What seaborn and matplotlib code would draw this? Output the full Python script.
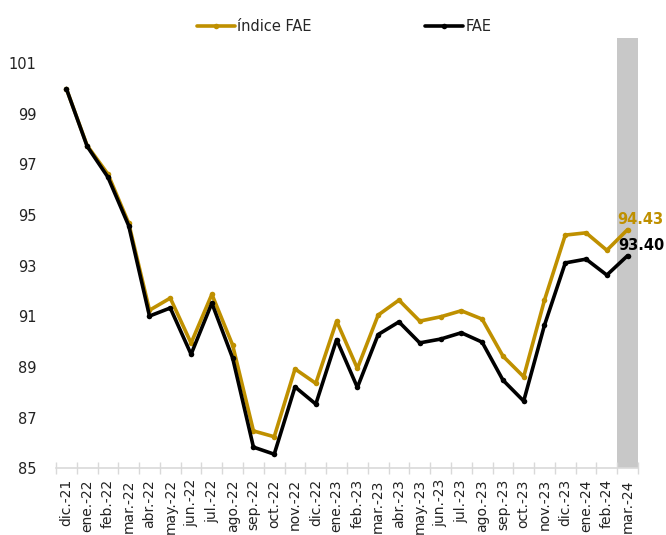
import matplotlib
matplotlib.use("Agg")
from matplotlib import pyplot as plt
from matplotlib.ticker import FixedLocator
import pandas as pd
import seaborn as sns

months = [
    "dic.-21", "ene.-22", "feb.-22", "mar.-22", "abr.-22", "may.-22", "jun.-22",
    "jul.-22", "ago.-22", "sep.-22", "oct.-22", "nov.-22", "dic.-22", "ene.-23",
    "feb.-23", "mar.-23", "abr.-23", "may.-23", "jun.-23", "jul.-23", "ago.-23",
    "sep.-23", "oct.-23", "nov.-23", "dic.-23", "ene.-24", "feb.-24", "mar.-24",
]
indice_fae = [
    100.0, 97.75, 96.62, 94.68, 91.24, 91.72, 89.94, 91.87, 89.86, 86.47,
    86.24, 88.92, 88.35, 90.81, 88.94, 91.05, 91.64, 90.81, 90.98, 91.22,
    90.89, 89.43, 88.61, 91.64, 94.21, 94.30, 93.61, 94.43,
]
fae = [
    100.0, 97.72, 96.50, 94.58, 91.01, 91.33, 89.50, 91.52, 89.35, 85.83,
    85.55, 88.21, 87.53, 90.08, 88.19, 90.28, 90.78, 89.95, 90.10, 90.35,
    89.98, 88.48, 87.65, 90.65, 93.11, 93.26, 92.63, 93.40,
]
y_ticks = [85, 87, 89, 91, 93, 95, 97, 99, 101]

gold = "#BF9000"
df = pd.DataFrame({"pos": range(len(months)), "indice": indice_fae, "fae": fae})

sns.set_style("white")
plt.rcParams["font.family"] = ["DejaVu Sans"]

fig = plt.figure(figsize=(6.66, 5.35), dpi=100)
ax = fig.add_axes([0.084, 0.125, 0.874, 0.804])

# shaded latest month
ax.axvspan(len(months) - 1.5, len(months) - 0.5, color="#C8C8C8", lw=0, zorder=0)

sns.lineplot(data=df, x="pos", y="indice", color=gold, lw=2.6, marker="o",
             markersize=4, markeredgewidth=0, label="índice FAE", ax=ax)
sns.lineplot(data=df, x="pos", y="fae", color="black", lw=2.6, marker="o",
             markersize=4, markeredgewidth=0, label="FAE", ax=ax)

last = len(months) - 1
ax.annotate(f"{indice_fae[-1]:.2f}", (last, indice_fae[-1]), xytext=(9, 7),
            textcoords="offset points", ha="center", va="center",
            color=gold, fontweight="bold", fontsize=10.5)
ax.annotate(f"{fae[-1]:.2f}", (last, fae[-1]), xytext=(10, 7),
            textcoords="offset points", ha="center", va="center",
            color="black", fontweight="bold", fontsize=10.5)

ax.set_xlim(-0.5, len(months) - 0.5)
ax.set_ylim(85, 102)
ax.set_yticks(y_ticks)
ax.set_yticklabels([str(t) for t in y_ticks], fontsize=10.5, color="#222222")
ax.set_xticks(range(len(months)))
ax.set_xticklabels(months, rotation=90, fontsize=10, color="#222222")
ax.xaxis.set_minor_locator(FixedLocator([i - 0.5 for i in range(len(months) + 1)]))
ax.tick_params(axis="x", which="major", length=0, pad=8)
ax.tick_params(axis="x", which="minor", bottom=True, length=8, direction="inout",
               color="#D9D9D9", width=1)
ax.tick_params(axis="y", length=0, pad=14)
ax.set_xlabel("")
ax.set_ylabel("")

for side in ["top", "right", "left"]:
    ax.spines[side].set_visible(False)
ax.spines["bottom"].set_color("#D9D9D9")
ax.spines["bottom"].set_linewidth(1.2)

ax.legend(loc="center", bbox_to_anchor=(0.517, 0.95), bbox_transform=fig.transFigure,
          ncol=2, frameon=False, fontsize=10.5, handlelength=2.6,
          handletextpad=0.15, columnspacing=7.8)

plt.savefig("out.png", dpi=100, facecolor="white")
